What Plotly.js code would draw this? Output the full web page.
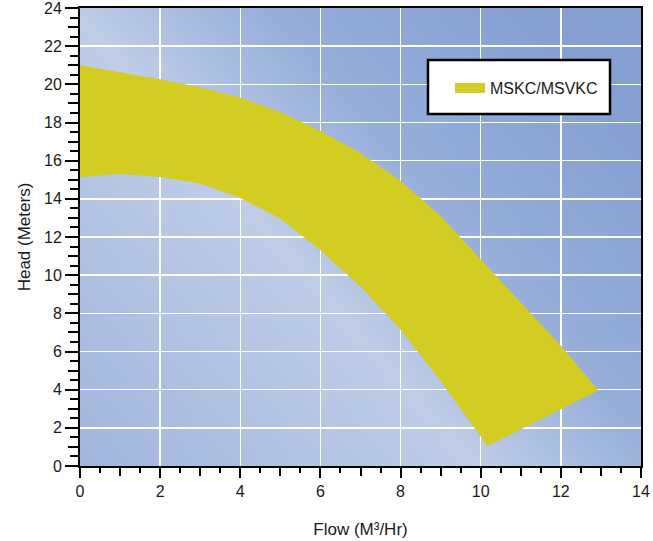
<!DOCTYPE html>
<html>
<head>
<meta charset="utf-8">
<script src="https://cdn.plot.ly/plotly-3.0.1.min.js"></script>
<style>html,body{margin:0;padding:0;background:#fff;}#chart{width:653px;height:541px;}</style>
</head>
<body>
<div id="chart"></div>
<script>
// Upper edge of the performance band (Flow m3/hr, Head m)
const flowUpper = [0, 1, 2, 3, 4, 5, 6, 7, 8, 9, 10, 11, 12, 12.94];
const headUpper = [21.0, 20.65, 20.27, 19.85, 19.3, 18.55, 17.55, 16.4, 14.95, 13.1, 10.85, 8.6, 6.3, 3.95];
// Lower edge of the performance band
const flowLower = [0, 1, 2, 3, 4, 5, 6, 7, 8, 9, 10.17];
const headLower = [15.15, 15.3, 15.15, 14.8, 14.05, 12.95, 11.3, 9.4, 7.15, 4.45, 1.05];
const seriesName = 'MSKC/MSVKC';
const xTickVals = [0, 2, 4, 6, 8, 10, 12, 14];
const yTickVals = [0, 2, 4, 6, 8, 10, 12, 14, 16, 18, 20, 22, 24];

const bandX = flowUpper.concat(flowLower.slice().reverse());
const bandY = headUpper.concat(headLower.slice().reverse());

const FONT = '"Liberation Sans", Arial, sans-serif';
const YELLOW = '#d3cc23';

const W = 561, H = 458;
const svg = `<svg xmlns="http://www.w3.org/2000/svg" width="${W}" height="${H}" viewBox="0 0 ${W} ${H}" preserveAspectRatio="none">
<defs><linearGradient id="g" gradientUnits="userSpaceOnUse" x1="-125" y1="458" x2="430" y2="-30">
<stop offset="0" stop-color="#98add9"/>
<stop offset="0.53" stop-color="#bfcde7"/>
<stop offset="0.72" stop-color="#98afda"/>
<stop offset="1" stop-color="#849fd1"/>
</linearGradient></defs>
<rect width="${W}" height="${H}" fill="url(#g)"/></svg>`;
const bgSrc = 'data:image/svg+xml;charset=utf-8,' + encodeURIComponent(svg);

const traces = [
  {
    x: bandX, y: bandY, type: 'scatter', mode: 'lines',
    fill: 'toself', fillcolor: YELLOW,
    line: {width: 0, color: YELLOW},
    showlegend: false, hoverinfo: 'skip'
  },
  {
    x: [null], y: [null], type: 'scatter', mode: 'lines',
    name: seriesName,
    line: {width: 12, color: YELLOW},
    showlegend: true
  },
  {x: [null], y: [null], xaxis: 'x2', yaxis: 'y2', showlegend: false, hoverinfo: 'skip', mode: 'lines'}
];

const tickFont = {family: FONT, size: 16, color: '#1a1a1a'};

const layout = {
  width: 653, height: 541,
  margin: {l: 80, r: 12, t: 8, b: 75},
  paper_bgcolor: '#ffffff',
  plot_bgcolor: 'rgba(0,0,0,0)',
  images: [{source: bgSrc, xref: 'paper', yref: 'paper', x: 0, y: 1, sizex: 1, sizey: 1,
            sizing: 'stretch', xanchor: 'left', yanchor: 'top', layer: 'below'}],
  xaxis: {
    range: [0, 14], tickvals: xTickVals, ticktext: xTickVals.map(String),
    showgrid: true, gridcolor: '#ffffff', gridwidth: 1.5,
    zeroline: false, showline: true, linecolor: '#000', linewidth: 2, mirror: true,
    ticks: 'outside', ticklen: 10, tickwidth: 2, tickcolor: '#000',
    minor: {dtick: 0.5, tick0: 0, ticks: 'outside', ticklen: 5, tickwidth: 2, tickcolor: '#000', showgrid: false},
    tickfont: tickFont, ticklabeloverflow: 'allow',
    title: {text: 'Flow (M³/Hr)', font: {family: FONT, size: 17, color: '#1a1a1a'}, standoff: 24},
    fixedrange: true
  },
  yaxis: {
    range: [0, 24], tickvals: yTickVals, ticktext: yTickVals.map(String),
    showgrid: true, gridcolor: '#ffffff', gridwidth: 1.5,
    zeroline: false, showline: true, linecolor: '#000', linewidth: 2, mirror: true,
    ticks: 'outside', ticklen: 13, tickwidth: 2, tickcolor: '#000',
    minor: {dtick: 0.5, tick0: 0, ticks: 'outside', ticklen: 8, tickwidth: 2, tickcolor: '#000', showgrid: false},
    tickfont: tickFont, ticklabeloverflow: 'allow',
    title: {text: 'Head (Meters)', font: {family: FONT, size: 17, color: '#1a1a1a'}, standoff: 9},
    fixedrange: true
  },
  xaxis2: {
    overlaying: 'x', anchor: 'y', range: [0, 14], dtick: 1, tick0: 1,
    showgrid: false, zeroline: false, showline: false, showticklabels: false,
    ticks: 'outside', ticklen: 9, tickwidth: 2, tickcolor: '#000', fixedrange: true
  },
  yaxis2: {
    overlaying: 'y', anchor: 'x', side: 'left', range: [0, 24], dtick: 1, tick0: 1,
    showgrid: false, zeroline: false, showline: false, showticklabels: false,
    ticks: 'outside', ticklen: 11, tickwidth: 2, tickcolor: '#000', fixedrange: true
  },
  shapes: [{
    type: 'rect', xref: 'paper', yref: 'paper',
    x0: (428 - 80) / W, x1: (610 - 80) / W,
    y0: (466 - 114) / H, y1: (466 - 60) / H,
    fillcolor: '#ffffff', line: {color: '#000', width: 2.5}, layer: 'above'
  }],
  legend: {
    x: (450 - 80) / W, y: (466 - 88) / H, xanchor: 'left', yanchor: 'middle',
    bgcolor: 'rgba(0,0,0,0)', borderwidth: 0,
    font: {family: FONT, size: 16, color: '#1a1a1a'}
  },
  showlegend: true
};

Plotly.newPlot('chart', traces, layout, {displayModeBar: false, staticPlot: true});
</script>
</body>
</html>
